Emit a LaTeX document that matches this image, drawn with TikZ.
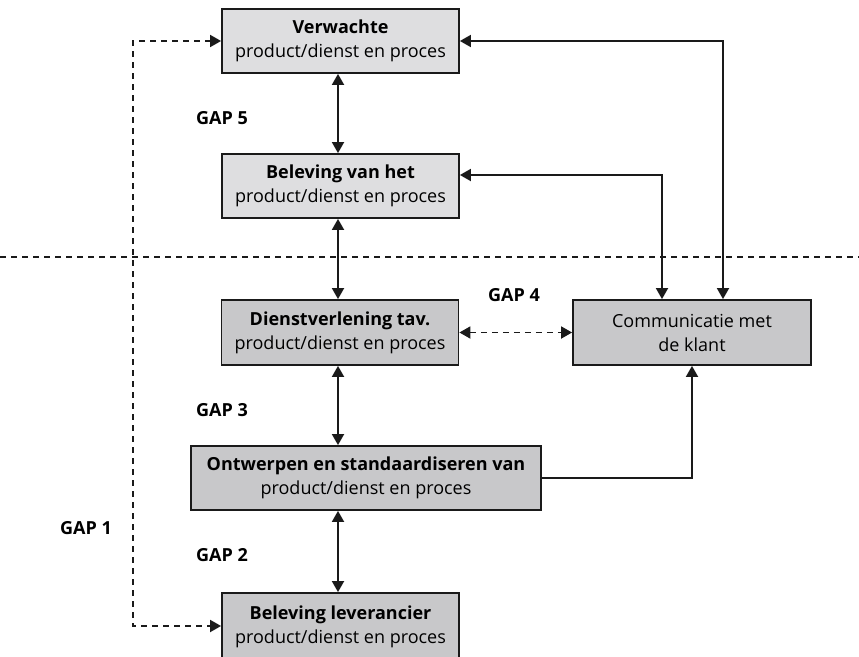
\documentclass[tikz,border=0pt]{standalone}
\usepackage{fontspec}
\setmainfont{Open Sans}
\usetikzlibrary{arrows.meta,calc}
\definecolor{boxlight}{HTML}{DEDEE0}
\definecolor{boxdark}{HTML}{C8C8CA}
\definecolor{ink}{HTML}{1A1A1A}
\begin{document}
\begin{tikzpicture}[x=1pt,y=-1pt,
  box/.style={draw=ink, line width=1.8pt, minimum height=64pt, inner sep=0pt,
    align=center, font=\fontsize{18}{24}\selectfont},
  lightbox/.style={box, fill=boxlight, minimum width=237pt},
  darkbox/.style={box, fill=boxdark, minimum width=237pt},
  tip/.tip={Triangle[length=11pt,width=12pt]},
  link/.style={draw=ink, line width=1.8pt},
  both/.style={link, tip-tip},
  one/.style={link, -tip},
  dlink/.style={link, dash pattern=on 6pt off 5pt},
  gap/.style={font=\fontsize{18}{24}\selectfont\bfseries, inner sep=0pt}
]
\useasboundingbox (0,0) rectangle (859,656);

% boxes
\node[lightbox] (ver) at (340.5,41) {\textbf{Verwachte}\\product/dienst en proces};
\node[lightbox] (bel) at (340.5,186) {\textbf{Beleving van het}\\product/dienst en proces};
\node[darkbox, minimum height=65pt] (die) at (340,332.5) {\textbf{Dienstverlening tav.}\\product/dienst en proces};
\node[darkbox, minimum width=238pt, minimum height=65pt] (com) at (692,332.5) {Communicatie met\\de klant};
\node[darkbox, minimum width=350pt] (ont) at (366,478) {\textbf{Ontwerpen en standaardiseren van}\\product/dienst en proces};
\node[darkbox, minimum height=68pt] (lev) at (340.5,627) {\raisebox{2pt}{\textbf{Beleving leverancier}}\\[-2pt]product/dienst en proces};

% gap labels
\node[gap] (g5) at (222,118) {GAP 5};
\node[gap] (g4) at (514,295) {GAP 4};
\node[gap] (g3) at (222,410) {GAP 3};
\node[gap] (g2) at (222,555) {GAP 2};
\node[gap] (g1) at (86,528) {GAP 1};

% helper coordinates
\coordinate (ax) at (338,0);
\coordinate (rx1) at (723,0);
\coordinate (rx2) at (662,0);
\coordinate (lx) at (133,0);
\coordinate (hl) at (0,257);
\coordinate (hr) at (859,257);
\coordinate (belin) at ($(bel.east)+(0,-11)$);
\coordinate (levin) at (lev.west |- 0,626);

% separator
\draw[dlink] (hl) -- (hr);

% vertical double arrows
\draw[both] (ver.south -| ax) -- (bel.north -| ax);
\draw[both] (bel.south -| ax) -- (die.north -| ax);
\draw[both] (die.south -| ax) -- (ont.north -| ax);
\draw[both] (ont.south -| ax) -- (lev.north -| ax);

% communication links
\draw[both] (ver.east) -| (com.north -| rx1);
\draw[both] (belin) -| (com.north -| rx2);
\draw[one] (ont.east) -| (com.south);
\draw[dlink, tip-tip] (die.east) -- (com.west);

% gap 1
\draw[dlink, tip-tip] (ver.west) -| (lx |- hl) |- (levin);
\end{tikzpicture}
\end{document}
